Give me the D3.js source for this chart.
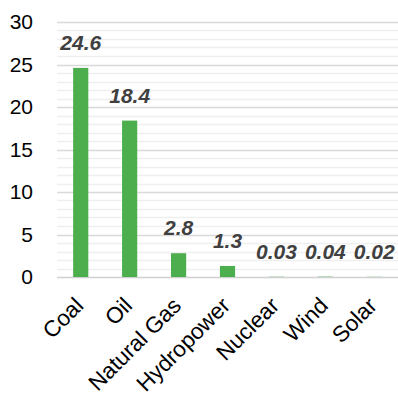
<!DOCTYPE html>
<html>
<head>
<meta charset="utf-8">
<script src="https://cdn.jsdelivr.net/npm/d3@7"></script>
<style>
  html, body { margin: 0; padding: 0; background: #ffffff; }
  svg { display: block; }
</style>
</head>
<body>
<div id="chart"></div>
<script>
// Energy sources and their values
const categories = ["Coal", "Oil", "Natural Gas", "Hydropower", "Nuclear", "Wind", "Solar"];
const values = [24.6, 18.4, 2.8, 1.3, 0.03, 0.04, 0.02];
const valueLabels = ["24.6", "18.4", "2.8", "1.3", "0.03", "0.04", "0.02"];
const yTicks = [0, 5, 10, 15, 20, 25, 30];
const yMinorTicks = d3.range(0, 31, 1);

const width = 398, height = 396;
const plot = { left: 57, right: 398, top: 22, bottom: 277 };
const fontFamily = "Liberation Sans, Arial, sans-serif";

const svg = d3.select("#chart").append("svg")
  .attr("width", width)
  .attr("height", height);

const x = d3.scaleBand()
  .domain(categories)
  .range([plot.left, plot.right])
  .paddingInner(0.69)
  .paddingOuter(0.33);

const y = d3.scaleLinear()
  .domain([0, 30])
  .range([plot.bottom, plot.top]);

// Minor gridlines
svg.append("g")
  .selectAll("line")
  .data(yMinorTicks.filter(d => d % 5 !== 0))
  .join("line")
  .attr("x1", plot.left).attr("x2", plot.right)
  .attr("y1", d => Math.round(y(d)) + 0.5)
  .attr("y2", d => Math.round(y(d)) + 0.5)
  .attr("stroke", "#efefef")
  .attr("stroke-width", 1.5);

// Major gridlines
svg.append("g")
  .selectAll("line")
  .data(yTicks)
  .join("line")
  .attr("x1", plot.left).attr("x2", plot.right)
  .attr("y1", d => Math.round(y(d)) + 0.5)
  .attr("y2", d => Math.round(y(d)) + 0.5)
  .attr("stroke", d => d === 0 ? "#d0d0d0" : "#d9d9d9")
  .attr("stroke-width", 1.5);

// Y axis labels
const yAxis = d3.axisLeft(y).tickValues(yTicks).tickSize(0).tickPadding(24);
const gy = svg.append("g")
  .attr("transform", `translate(${plot.left},0)`)
  .call(yAxis);
gy.select(".domain").remove();
gy.selectAll("text")
  .attr("font-family", fontFamily)
  .attr("font-size", 21)
  .attr("fill", "#000000");

// Bars
svg.append("g")
  .selectAll("rect")
  .data(values)
  .join("rect")
  .attr("x", (d, i) => x(categories[i]))
  .attr("width", x.bandwidth())
  .attr("y", d => y(d))
  .attr("height", d => y(0) - y(d))
  .attr("fill", "#4cae4c");

// Value labels
svg.append("g")
  .selectAll("text")
  .data(values)
  .join("text")
  .attr("x", (d, i) => x(categories[i]) + x.bandwidth() / 2)
  .attr("y", d => y(d) - 18)
  .attr("text-anchor", "middle")
  .attr("font-family", fontFamily)
  .attr("font-size", 21)
  .attr("font-weight", "bold")
  .attr("font-style", "italic")
  .attr("fill", "#404040")
  .text((d, i) => valueLabels[i]);

// X axis labels, rotated
const xAxis = d3.axisBottom(x).tickSize(0).tickPadding(0);
const gx = svg.append("g")
  .attr("transform", `translate(0,${plot.bottom})`)
  .call(xAxis);
gx.select(".domain").remove();
gx.selectAll(".tick text")
  .attr("font-family", fontFamily)
  .attr("font-size", 22.5)
  .attr("fill", "#000000")
  .attr("text-anchor", "end")
  .attr("dy", 0)
  .attr("y", 0)
  .attr("transform", "translate(4,30) rotate(-45)");
</script>
</body>
</html>
